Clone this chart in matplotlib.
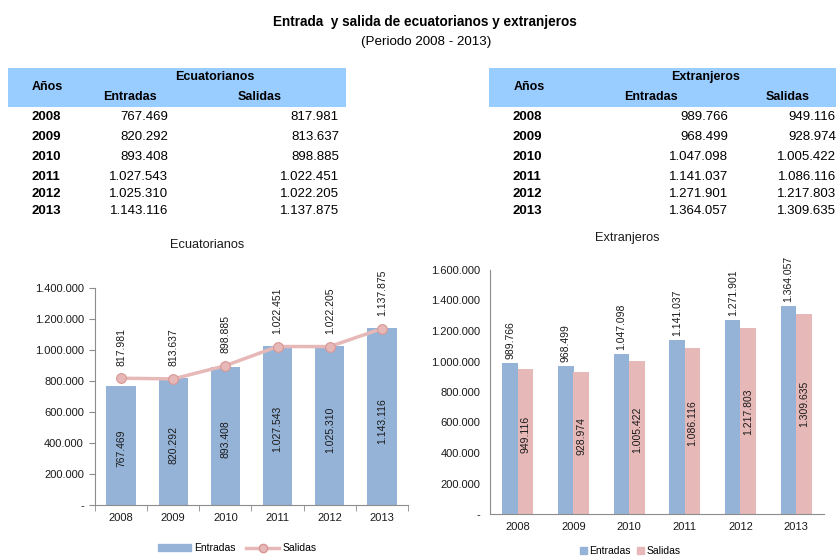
import matplotlib
matplotlib.use("Agg")
import matplotlib.pyplot as plt
from matplotlib.patches import Rectangle
from matplotlib.lines import Line2D
from matplotlib.ticker import FuncFormatter

plt.rcParams['font.family'] = ['Liberation Sans', 'DejaVu Sans']

years = ['2008', '2009', '2010', '2011', '2012', '2013']
ecu_entradas = [767469, 820292, 893408, 1027543, 1025310, 1143116]
ecu_salidas = [817981, 813637, 898885, 1022451, 1022205, 1137875]
ext_entradas = [989766, 968499, 1047098, 1141037, 1271901, 1364057]
ext_salidas = [949116, 928974, 1005422, 1086116, 1217803, 1309635]

title = "Entrada  y salida de ecuatorianos y extranjeros"
subtitle = "(Periodo 2008 - 2013)"

BLUE = '#95B3D7'
PINK = '#E6B9B8'
PINK_EDGE = '#D99694'
HEADER = '#99CCFF'
TXT = '#1a1a1a'
W, H = 837, 556


def fmt(v):
    return f"{v:,}".replace(",", ".")


def yfmt(v, pos):
    if v == 0:
        return "-"
    return fmt(int(round(v)))


fig = plt.figure(figsize=(W / 100, H / 100), dpi=100)


def fx(px):
    return px / W


def fy(py):
    return 1 - py / H


fig.text(fx(425), fy(22), title, ha='center', va='center', fontsize=9.8, fontweight='bold')
fig.text(fx(426), fy(42), subtitle, ha='center', va='center', fontsize=9.6)


def table(x0, x1, group, group_x, years_x, ent_x, sal_x, ent_hdr_x, sal_hdr_x, anos_x, ent, sal):
    fig.patches.append(Rectangle((fx(x0), fy(107)), fx(x1 - x0), (107 - 68) / H,
                                 transform=fig.transFigure, facecolor=HEADER,
                                 edgecolor='none', zorder=0))
    fig.text(fx(anos_x), fy(87), "Años", ha='center', va='center', fontsize=9, fontweight='bold')
    fig.text(fx(group_x), fy(77), group, ha='center', va='center',
             fontsize=9, fontweight='bold')
    fig.text(fx(ent_hdr_x), fy(97), "Entradas", ha='center', va='center', fontsize=9, fontweight='bold')
    fig.text(fx(sal_hdr_x), fy(97), "Salidas", ha='center', va='center', fontsize=9, fontweight='bold')
    row_y = [117, 137, 157, 177, 194, 211]
    for y, yr, e, s in zip(row_y, years, ent, sal):
        fig.text(fx(years_x), fy(y), yr, ha='left', va='center', fontsize=9.5, fontweight='bold')
        fig.text(fx(ent_x), fy(y), fmt(e), ha='right', va='center', fontsize=9.5)
        fig.text(fx(sal_x), fy(y), fmt(s), ha='right', va='center', fontsize=9.5)


table(8, 346, "Ecuatorianos", 215, 32, 168, 339, 130, 260, 47, ecu_entradas, ecu_salidas)
table(489, 837, "Extranjeros", 706, 513, 728, 836, 651, 788, 529, ext_entradas, ext_salidas)

x = list(range(len(years)))
SPINE = '#8C8C8C'

# Left chart
ax1 = fig.add_axes([fx(95), (H - 505) / H, fx(408 - 95), (505 - 288) / H])
ax1.bar(x, ecu_entradas, width=0.56, color=BLUE, zorder=2)
ax1.plot(x, ecu_salidas, color=PINK, lw=2.5, marker='o', ms=7, mfc=PINK,
         mec=PINK_EDGE, mew=0.8, zorder=3)
ax1.set_xlim(-0.5, 5.5)
ax1.set_ylim(0, 1400000)
ax1.set_yticks(range(0, 1400001, 200000))
ax1.yaxis.set_major_formatter(FuncFormatter(yfmt))
ax1.set_xticks(x)
ax1.set_xticklabels(years)
ax1.set_xticks([i - 0.5 for i in range(7)], minor=True)
ax1.tick_params(axis='x', which='major', length=0, labelsize=8, pad=6, labelcolor=TXT)
ax1.tick_params(axis='x', which='minor', length=4, color=SPINE, direction='out')
ax1.tick_params(axis='y', length=4, color=SPINE, labelsize=8, pad=4, labelcolor=TXT)
for s in ['top', 'right']:
    ax1.spines[s].set_visible(False)
for s in ['left', 'bottom']:
    ax1.spines[s].set_color(SPINE)
for xi, v in zip(x, ecu_entradas):
    ax1.text(xi, v / 2 * 0.95, fmt(v), rotation=90, ha='center', va='center', fontsize=7.5,
             color=TXT)
for xi, v in zip(x, ecu_salidas):
    ax1.annotate(fmt(v), (xi, v), xytext=(0, 9), textcoords='offset points',
                 rotation=90, ha='center', va='bottom', fontsize=7.5, color=TXT)
fig.text(fx(207), fy(245), "Ecuatorianos", ha='center', va='center', fontsize=9.2, color=TXT)
h1 = [Rectangle((0, 0), 1, 1, color=BLUE),
      Line2D([], [], color=PINK, lw=2.5, marker='o', ms=6, mfc=PINK, mec=PINK_EDGE)]
fig.legend(h1, ["Entradas", "Salidas"], loc='center', bbox_to_anchor=(fx(237), fy(548)),
           ncol=2, frameon=False, fontsize=7.5, handlelength=3.2, handleheight=0.6,
           columnspacing=1.0, handletextpad=0.3)

# Right chart
ax2 = fig.add_axes([fx(490), (H - 514) / H, fx(824 - 490), (514 - 270) / H])
bw = 0.28
ax2.bar([i - bw / 2 for i in x], ext_entradas, width=bw, color=BLUE, zorder=2)
ax2.bar([i + bw / 2 for i in x], ext_salidas, width=bw, color=PINK, zorder=2)
ax2.set_xlim(-0.5, 5.5)
ax2.set_ylim(0, 1600000)
ax2.set_yticks(range(0, 1600001, 200000))
ax2.yaxis.set_major_formatter(FuncFormatter(yfmt))
ax2.set_xticks(x)
ax2.set_xticklabels(years)
ax2.tick_params(axis='x', length=0, labelsize=8, pad=6, labelcolor=TXT)
ax2.tick_params(axis='y', length=0, labelsize=8, pad=7, labelcolor=TXT)
for s in ['top', 'right']:
    ax2.spines[s].set_visible(False)
for s in ['left', 'bottom']:
    ax2.spines[s].set_color(SPINE)
for xi, v in zip(x, ext_entradas):
    ax2.annotate(fmt(v), (xi - bw / 2, v), xytext=(0, 3), textcoords='offset points',
                 rotation=90, ha='center', va='bottom', fontsize=7.5, color=TXT)
for xi, v in zip(x, ext_salidas):
    ax2.text(xi + bw / 2, v / 2 * 1.1, fmt(v), rotation=90, ha='center', va='center',
             fontsize=7.5, color=TXT)
fig.text(fx(627), fy(238), "Extranjeros", ha='center', va='center', fontsize=9.2, color=TXT)
h2 = [Rectangle((0, 0), 1, 1, color=BLUE), Rectangle((0, 0), 1, 1, color=PINK)]
fig.legend(h2, ["Entradas", "Salidas"], loc='center', bbox_to_anchor=(fx(630), fy(551)),
           ncol=2, frameon=False, fontsize=7.5, handlelength=0.7, handleheight=0.7,
           columnspacing=0.6, handletextpad=0.2)

fig.savefig("out.png", dpi=100)
